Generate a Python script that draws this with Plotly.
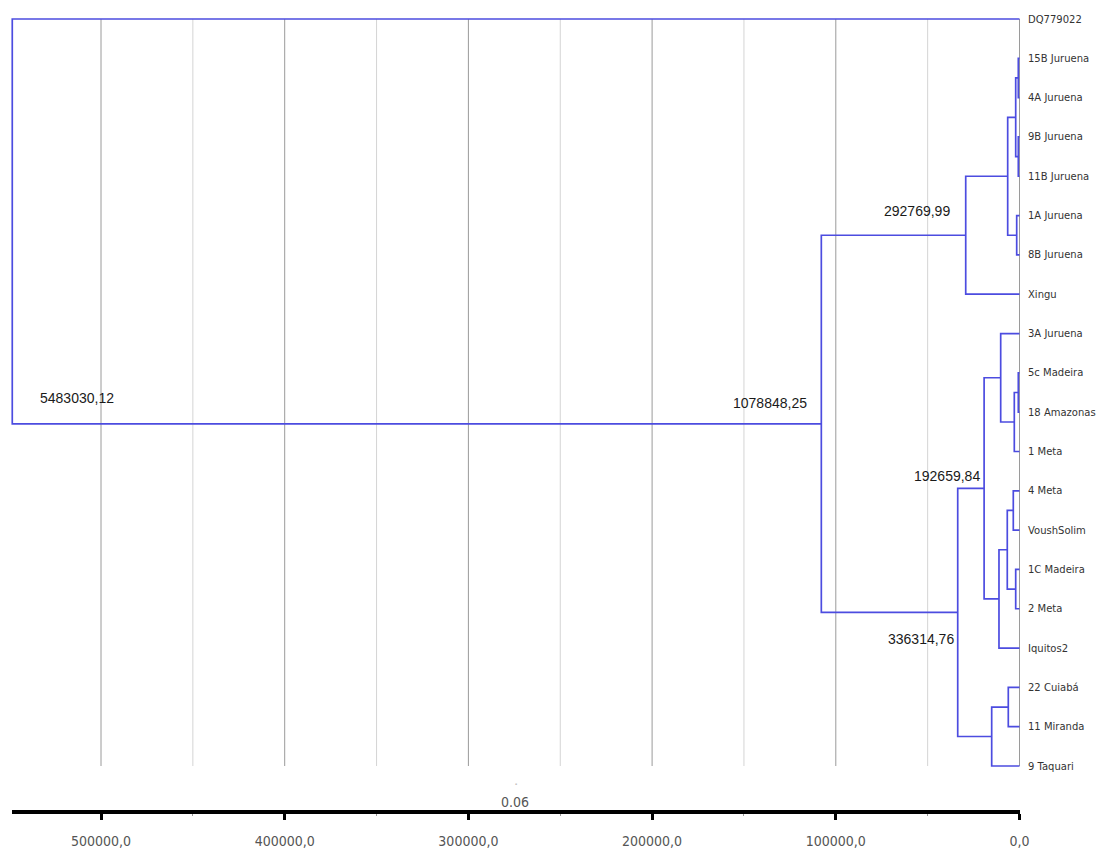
import plotly.graph_objects as go

# ---------------- data ----------------
leaf_labels = ["DQ779022", "15B Juruena", "4A Juruena", "9B Juruena", "11B Juruena",
               "1A Juruena", "8B Juruena", "Xingu", "3A Juruena", "5c Madeira",
               "18 Amazonas", "1 Meta", "4 Meta", "VoushSolim", "1C Madeira",
               "2 Meta", "Iquitos2", "22 Cuiabá", "11 Miranda", "9 Taquari"]

# merges: ids 0..19 are leaves, internal node k gets id 20+k
merge_left = [1, 3, 20, 5, 22, 24, 9, 26, 8, 12, 14, 29, 31, 28, 17, 34, 33, 25, 0]
merge_right = [2, 4, 21, 6, 23, 7, 10, 11, 27, 13, 15, 30, 16, 32, 18, 19, 35, 36, 37]
merge_height = [650, 650, 2070, 1525, 6430, 29277.0, 650, 2830, 10240, 3380, 2070,
                6650, 11170, 19265.98, 6100, 15140, 33631.48, 107884.83, 548303.01]

node_label_ids = [38, 37, 25, 33, 36]
node_label_text = ["5483030,12", "1078848,25", "292769,99", "192659,84", "336314,76"]

scale_ticks = [0, 100000, 200000, 300000, 400000, 500000]
scale_ticktext = ["0,0", "100000,0", "200000,0", "300000,0", "400000,0", "500000,0"]
grid_major = [100000, 200000, 300000, 400000, 500000]
grid_minor = [50000, 150000, 250000, 350000, 450000]

# ---------------- geometry (px calibration) ----------------
W, H = 1097, 850
PX_PER_UNIT = 918.5 / 500000.0
X0_PX = 1019.5            # pixel of value 0
Y0_PX, DY_PX = 19.0, 39.316

x_range = [X0_PX / PX_PER_UNIT, -(W - X0_PX) / PX_PER_UNIT]
y_range = [(H - Y0_PX) / DY_PX, -Y0_PX / DY_PX]

n_leaves = len(leaf_labels)
pos_x = [0.0] * n_leaves
pos_y = [float(i) for i in range(n_leaves)]
for a, b, h in zip(merge_left, merge_right, merge_height):
    pos_x.append(h)
    pos_y.append((pos_y[a] + pos_y[b]) / 2.0)

tx, ty = [], []
for a, b, h in zip(merge_left, merge_right, merge_height):
    tx += [pos_x[a], h, h, pos_x[b], None]
    ty += [pos_y[a], pos_y[a], pos_y[b], pos_y[b], None]

def vsegs(vals):
    xs, ys = [], []
    for v in vals:
        xs += [v, v, None]
        ys += [0, n_leaves - 1, None]
    return xs, ys

fig = go.Figure()
gx, gy = vsegs(grid_minor)
fig.add_trace(go.Scatter(x=gx, y=gy, mode="lines", line=dict(color="#d4d4d4", width=1),
                         hoverinfo="skip", showlegend=False))
gx, gy = vsegs(grid_major + [0])
fig.add_trace(go.Scatter(x=gx, y=gy, mode="lines", line=dict(color="#9a9a9a", width=1),
                         hoverinfo="skip", showlegend=False))
fig.add_trace(go.Scatter(x=tx, y=ty, mode="lines", line=dict(color="#4c4ce0", width=1.7),
                         hoverinfo="skip", showlegend=False))

# scale bar trace (invisible, just to bind x2/y2)
fig.add_trace(go.Scatter(x=[0], y=[0], xaxis="x2", yaxis="y2", mode="markers",
                         marker=dict(opacity=0), hoverinfo="skip", showlegend=False))

annotations = []
for i, lab in enumerate(leaf_labels):
    annotations.append(dict(x=0, y=pos_y[i], xref="x", yref="y", text=lab, showarrow=False,
                            xanchor="left", yanchor="middle", xshift=6,
                            font=dict(family="DejaVu Sans", size=10, color="#333333")))

# (anchor, xshift, yshift, node id giving the y level)
offsets = {38: ("left", 26, 26, 37), 37: ("right", -12, 21, 37), 25: ("right", -14, 24, 25),
           33: ("right", -2, 12, 33), 36: ("right", -2, -27, 36)}
for nid, txt in zip(node_label_ids, node_label_text):
    anc, xs, ys, yid = offsets[nid]
    annotations.append(dict(x=pos_x[nid], y=pos_y[yid], xref="x", yref="y", text=txt,
                            showarrow=False, xanchor=anc, yanchor="middle", xshift=xs, yshift=ys,
                            font=dict(family="Liberation Sans, Arial", size=14, color="#1a1a1a")))

annotations.append(dict(x=515 / W, y=1 - 802 / H, xref="paper", yref="paper", text="0.06",
                        showarrow=False, xanchor="center", yanchor="middle",
                        font=dict(family="DejaVu Sans Condensed", size=14, color="#555555")))
annotations.append(dict(x=516 / W, y=1 - 784 / H, xref="paper", yref="paper", text="-",
                        showarrow=False, xanchor="center", yanchor="middle",
                        font=dict(family="DejaVu Sans Condensed", size=7, color="#555555")))

bar_left_px = 12.0
fig.update_layout(
    width=W, height=H, margin=dict(l=0, r=0, t=0, b=0, autoexpand=False),
    paper_bgcolor="white", plot_bgcolor="white",
    xaxis=dict(range=x_range, domain=[0, 1], showgrid=False, zeroline=False, automargin=False,
               showticklabels=False, showline=False, ticks=""),
    yaxis=dict(range=y_range, domain=[0, 1], showgrid=False, zeroline=False, automargin=False,
               showticklabels=False, showline=False, ticks=""),
    xaxis2=dict(range=[(X0_PX - bar_left_px) / PX_PER_UNIT, 0],
                domain=[bar_left_px / W, X0_PX / W], anchor="y2", automargin=False,
                showgrid=False, zeroline=False, showline=True, linewidth=4, linecolor="black",
                ticks="outside", ticklen=6, tickwidth=3, tickcolor="black",
                tickvals=scale_ticks, ticktext=scale_ticktext, ticklabelstandoff=9,
                minor=dict(dtick=50000, tick0=0, ticks="outside", ticklen=2, tickwidth=1,
                           tickcolor="#999999"),
                tickfont=dict(family="DejaVu Sans Condensed", size=14, color="#555555")),
    yaxis2=dict(range=[0, 1], domain=[(H - 810) / H, (H - 809) / H], anchor="x2",
                visible=False, automargin=False),
    annotations=annotations,
)

fig.write_html("out.html", config={"displayModeBar": False, "responsive": False},
               post_script="document.body.style.margin='0';document.body.style.overflow='hidden';")
